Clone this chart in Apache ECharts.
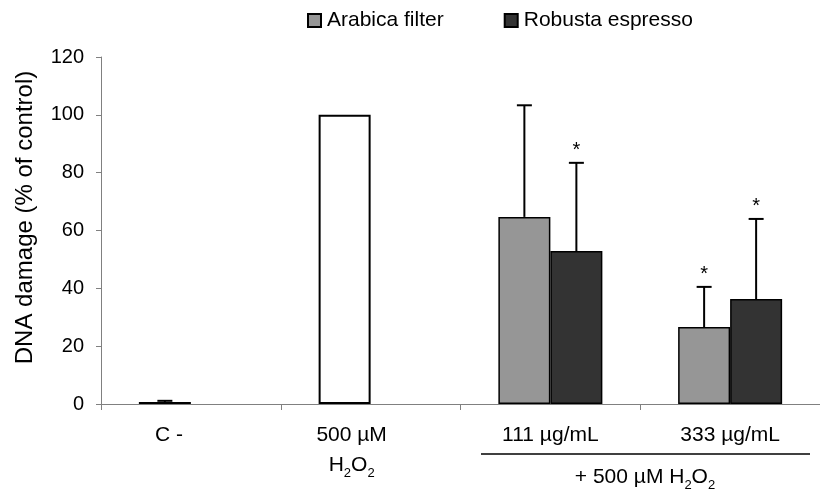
<!DOCTYPE html>
<html>
<head>
<meta charset="utf-8">
<script src="https://cdn.jsdelivr.net/npm/echarts@6/dist/echarts.min.js"></script>
<style>html,body{margin:0;padding:0;background:#fff;}#chart{width:820px;height:498px;}</style>
</head>
<body>
<div id="chart"></div>
<script>
// ---- data ----
var categories = ['C -', '500 µM H2O2', '111 µg/mL', '333 µg/mL'];
var controlValues = [0.7, 100, '-', '-'];
var controlErr = [0.4, null, null, null];
var arabicaValues = ['-', '-', 64.7, 26.6];
var arabicaErr = [null, null, 38.6, 13.9];
var arabicaSig = [false, false, false, true];
var robustaValues = ['-', '-', 52.9, 36.3];
var robustaErr = [null, null, 30.5, 27.7];
var robustaSig = [false, false, true, true];
var yTicks = [0, 20, 40, 60, 80, 100, 120];

var FONT = '"Liberation Sans", Arial, sans-serif';
var BAR_W = 52;

// error bar items: [categoryIndex, slot, value, err, significant]
var errItems = [];
function addErr(vals, errs, sig, slot) {
  for (var i = 0; i < vals.length; i++) {
    if (vals[i] !== '-' && errs[i] != null) {
      errItems.push([i, slot, vals[i], errs[i], sig ? (sig[i] ? 1 : 0) : 0]);
    }
  }
}
addErr(controlValues, controlErr, null, 0);
addErr(arabicaValues, arabicaErr, arabicaSig, 0);
addErr(robustaValues, robustaErr, robustaSig, 1);

var chart = echarts.init(document.getElementById('chart'), null, {renderer: 'canvas'});

var mainRich = {
  n: {fontSize: 21, lineHeight: 30, fontFamily: FONT, color: '#000'},
  s: {fontSize: 13, lineHeight: 16, verticalAlign: 'bottom', fontFamily: FONT, color: '#000'},
  np: {fontSize: 21, lineHeight: 30, fontFamily: FONT, color: '#000', padding: [0, 44, 0, 0]},
  nq: {fontSize: 21, lineHeight: 30, fontFamily: FONT, color: '#000', padding: [0, 38, 0, 0]},
  sq: {fontSize: 13, lineHeight: 16, verticalAlign: 'bottom', fontFamily: FONT, color: '#000', padding: [0, 38, 0, 0]}
};

function catLabel(v, idx) {
  if (idx === 0) return '{np|' + v + '}';
  if (idx === 1) return '{nq|500 µM}\n{n|H}{s|2}{n|O}{sq|2}';
  return '{n|' + v + '}';
}

var option = {
  animation: false,
  backgroundColor: '#fff',
  textStyle: {fontFamily: FONT},
  legend: {
    left: 307,
    top: 10,
    padding: 0,
    itemWidth: 13,
    itemHeight: 13,
    itemGap: 60,
    icon: 'rect',
    data: ['Arabica filter', 'Robusta espresso'],
    textStyle: {fontSize: 21, color: '#000', fontFamily: FONT, padding: [0, 0, 0, 1]}
  },
  grid: {left: 101, right: -7, top: 57, bottom: 94, containLabel: false},
  xAxis: {
    type: 'category',
    data: categories,
    axisLine: {lineStyle: {color: '#808080', width: 1}},
    axisTick: {show: true, length: 6, lineStyle: {color: '#808080'}},
    axisLabel: {
      interval: 0,
      margin: 16,
      formatter: catLabel,
      rich: mainRich,
      color: '#000'
    }
  },
  yAxis: {
    type: 'value',
    min: yTicks[0],
    max: yTicks[yTicks.length - 1],
    interval: yTicks[1] - yTicks[0],
    name: 'DNA damage (% of control)',
    nameLocation: 'middle',
    nameGap: 64,
    nameTextStyle: {fontSize: 24, color: '#000', fontFamily: FONT, padding: [0, 0, 0, 26]},
    splitLine: {show: false},
    axisLine: {show: true, lineStyle: {color: '#808080', width: 1}},
    axisTick: {show: true, length: 5, lineStyle: {color: '#808080'}},
    axisLabel: {fontSize: 20, color: '#000', margin: 17, fontFamily: FONT}
  },
  series: [
    {
      name: 'Controls',
      type: 'bar',
      stack: 'a',
      barWidth: BAR_W,
      barGap: '0%',
      data: controlValues,
      itemStyle: {color: '#ffffff', borderColor: '#000', borderWidth: 2},
      z: 2
    },
    {
      name: 'Arabica filter',
      type: 'bar',
      stack: 'a',
      barWidth: BAR_W,
      barGap: '0%',
      data: arabicaValues,
      itemStyle: {color: '#969696', borderColor: '#000', borderWidth: 1.5},
      z: 2
    },
    {
      name: 'Robusta espresso',
      type: 'bar',
      barWidth: BAR_W,
      barGap: '0%',
      data: robustaValues,
      itemStyle: {color: '#333333', borderColor: '#000', borderWidth: 1.5},
      z: 2
    },
    {
      name: 'errors',
      type: 'custom',
      z: 5,
      silent: true,
      encode: {x: 0, y: 2},
      data: errItems,
      renderItem: function (params, api) {
        var cat = api.value(0), slot = api.value(1), val = api.value(2), err = api.value(3), sig = api.value(4);
        var base = api.coord([cat, val]);
        var top = api.coord([cat, val + err]);
        var x = base[0] + (slot === 0 ? -BAR_W / 2 : BAR_W / 2);
        var capHalf = 7.5;
        var children = [
          {type: 'line', shape: {x1: x, y1: base[1], x2: x, y2: top[1]}, style: {stroke: '#000', lineWidth: 2}},
          {type: 'line', shape: {x1: x - capHalf, y1: top[1], x2: x + capHalf, y2: top[1]}, style: {stroke: '#000', lineWidth: 2}}
        ];
        if (sig) {
          children.push({type: 'text', style: {text: '*', x: x, y: top[1] - 12, align: 'center', verticalAlign: 'middle', fontSize: 20, fontFamily: FONT, fill: '#000'}});
        }
        return {type: 'group', children: children};
      }
    }
  ],
  graphic: [
    {type: 'line', shape: {x1: 481, y1: 454, x2: 810, y2: 454}, style: {stroke: '#000', lineWidth: 1.5}},
    {type: 'text', x: 645, y: 462, style: {
      text: '{n|+ 500 µM H}{s|2}{n|O}{s|2}',
      align: 'center', verticalAlign: 'top',
      rich: mainRich
    }}
  ]
};
chart.setOption(option);
</script>
</body>
</html>
